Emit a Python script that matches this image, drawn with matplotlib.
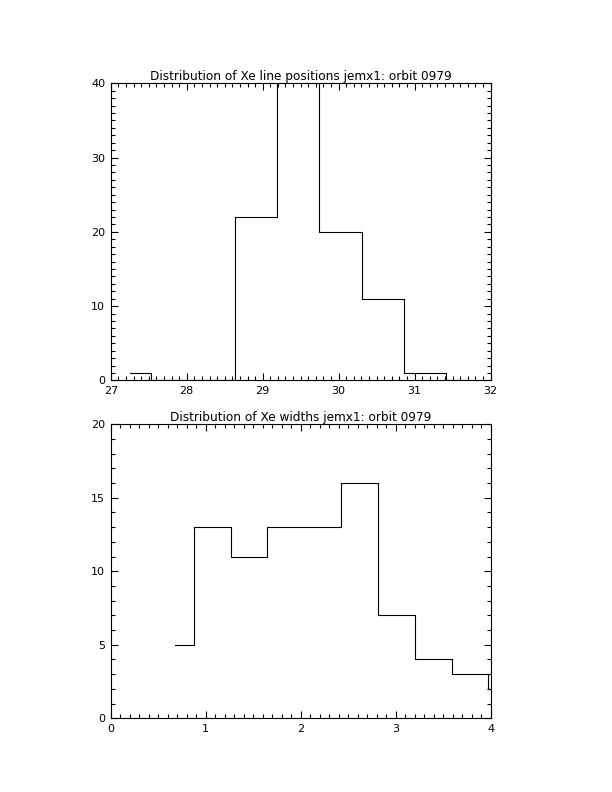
import matplotlib
matplotlib.use('Agg')
import matplotlib.pyplot as plt
import numpy as np
from matplotlib.ticker import MultipleLocator

# histogram bin centres and counts (IDL psym=10 style)
pos_centers = [27.25, 27.805, 28.36, 28.915, 29.47, 30.025, 30.58, 31.135, 31.69]
pos_counts = [1, 0, 0, 22, 46, 20, 11, 1, 0]

width_centers = [0.68, 1.068, 1.456, 1.844, 2.232, 2.62, 3.008, 3.396, 3.784, 4.172]
width_counts = [5, 13, 11, 13, 13, 16, 7, 4, 3, 2]

title_top = 'Distribution of Xe line positions jemx1: orbit 0979'
title_bot = 'Distribution of Xe widths jemx1: orbit 0979'

fig = plt.figure(figsize=(6.12, 7.92), dpi=100)
lw = 0.8


def style(ax, xlim, ylim, xmaj, xmin, ymaj, ymin):
    ax.set_xlim(*xlim)
    ax.set_ylim(*ylim)
    ax.xaxis.set_major_locator(MultipleLocator(xmaj))
    ax.xaxis.set_minor_locator(MultipleLocator(xmin))
    ax.yaxis.set_major_locator(MultipleLocator(ymaj))
    ax.yaxis.set_minor_locator(MultipleLocator(ymin))
    ax.tick_params(which='both', direction='in', top=True, right=True,
                   width=lw, labelsize=8, colors='k')
    ax.tick_params(which='major', length=5, pad=4)
    ax.tick_params(which='minor', length=3)
    for s in ax.spines.values():
        s.set_linewidth(lw)


ax1 = fig.add_axes([0.181, 0.5197, 0.6206, 0.3751])
ax1.step(pos_centers, pos_counts, where='mid', color='k', lw=lw)
style(ax1, (27, 32), (0, 40), 1, 0.1, 10, 1)
ax1.set_title(title_top, fontsize=8.7, pad=2)

ax2 = fig.add_axes([0.181, 0.0931, 0.6206, 0.3712])
ax2.step(width_centers, width_counts, where='mid', color='k', lw=lw)
style(ax2, (0, 4), (0, 20), 1, 0.1, 5, 1)
ax2.set_title(title_bot, fontsize=8.7, pad=2)

fig.savefig('out.png', dpi=100)
